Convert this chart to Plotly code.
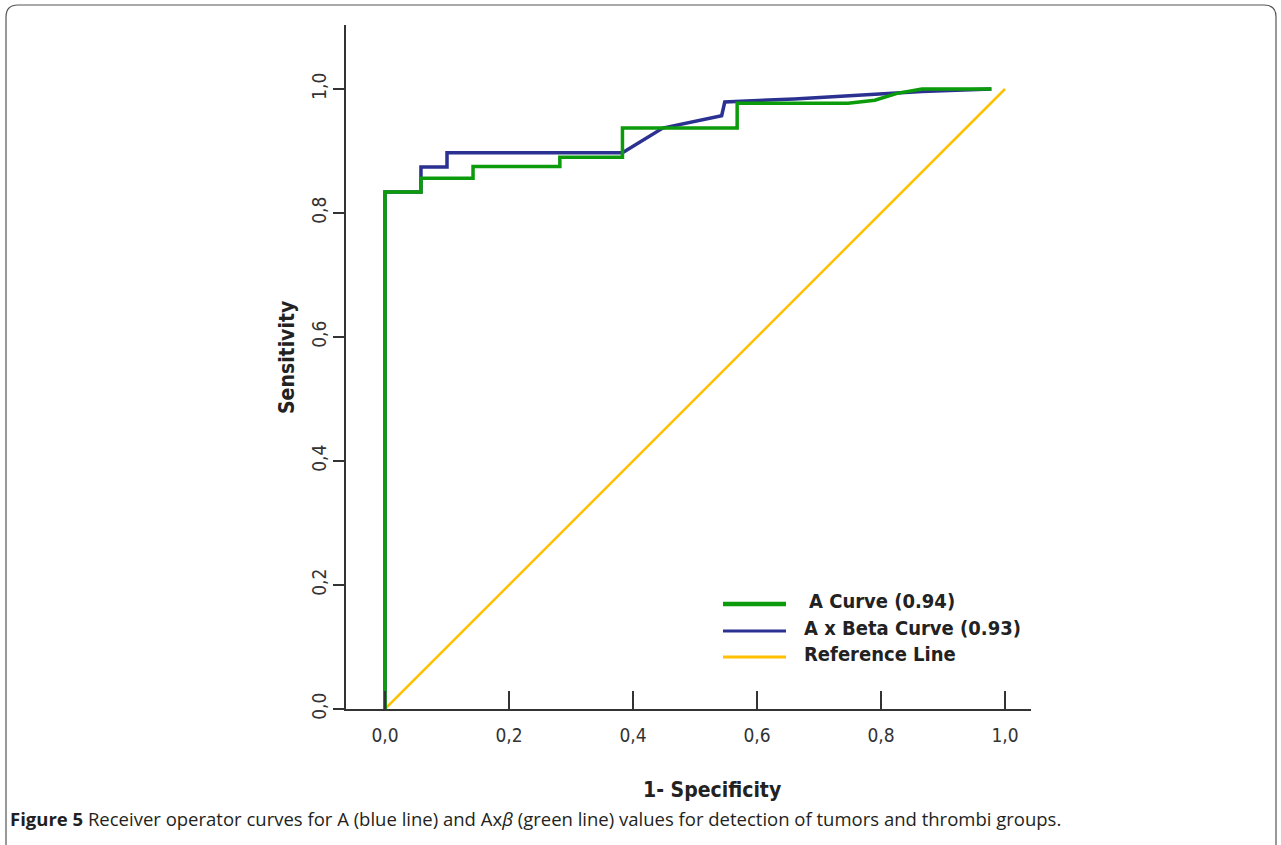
import plotly.graph_objects as go

# ---- data ----
a_fpr = [0.0, 0.0, 0.058, 0.058, 0.142, 0.142, 0.282, 0.282, 0.383, 0.383,
         0.568, 0.568, 0.747, 0.79, 0.826, 0.866, 0.978]
a_tpr = [0.0, 0.834, 0.834, 0.856, 0.856, 0.875, 0.875, 0.890, 0.890, 0.937,
         0.937, 0.977, 0.977, 0.982, 0.993, 1.0, 1.0]

ab_fpr = [0.0, 0.0, 0.058, 0.058, 0.100, 0.100, 0.383, 0.448, 0.543, 0.548,
          0.66, 0.726, 0.785, 0.866, 0.978]
ab_tpr = [0.0, 0.834, 0.834, 0.874, 0.874, 0.897, 0.897, 0.937, 0.957, 0.979,
          0.984, 0.988, 0.991, 0.996, 1.0]

ref_x = [0.0, 1.0]
ref_y = [0.0, 1.0]

tick_vals = [0.0, 0.2, 0.4, 0.6, 0.8, 1.0]

legend_labels = ["A Curve (0.94)", "A x Beta Curve (0.93)", "Reference Line"]

GREEN = "#0B9B0B"
BLUE = "#2B3190"
YELLOW = "#FFC000"
AXC = "#333333"
NARROW = "Liberation Sans Narrow, DejaVu Sans Condensed, Arial Narrow, sans-serif"

fig = go.Figure()
fig.add_trace(go.Scatter(x=ref_x, y=ref_y, mode="lines", name=legend_labels[2],
                         line=dict(color=YELLOW, width=2.5)))
fig.add_trace(go.Scatter(x=ab_fpr, y=ab_tpr, mode="lines", name=legend_labels[1],
                         line=dict(color=BLUE, width=3.5)))
fig.add_trace(go.Scatter(x=a_fpr, y=a_tpr, mode="lines", name=legend_labels[0],
                         line=dict(color=GREEN, width=3.5)))

# plot area in screen pixels: x 346..1031, y 25..709 (body margin removed below)
W, H = 1281, 845
L, R, T, B = 346, 1031, 25, 709
pw, ph = R - L, B - T

def px(x):
    return (x - L) / pw

def py(y):
    return (B - y) / ph

shapes = []
annotations = []

# custom legend
leg = [(legend_labels[0], GREEN, 4.5, 604, 807),
       (legend_labels[1], BLUE, 3, 631, 802),
       (legend_labels[2], YELLOW, 3, 657, 802)]
for text, col, w, yy, tx in leg:
    shapes.append(dict(type="line", xref="paper", yref="paper",
                       x0=px(723), x1=px(786), y0=py(yy), y1=py(yy),
                       line=dict(color=col, width=w)))
    annotations.append(dict(xref="paper", yref="paper", x=px(tx), y=py(yy - 3),
                            text="<b>%s</b>" % text, showarrow=False,
                            xanchor="left", yanchor="middle",
                            font=dict(family=NARROW, size=20, color="#222222")))

# axis titles
annotations.append(dict(xref="paper", yref="paper", x=px(287), y=py(358),
                        text="<b>Sensitivity</b>", textangle=-90, showarrow=False,
                        xanchor="center", yanchor="middle",
                        font=dict(family=NARROW, size=21, color="#222222")))
annotations.append(dict(xref="paper", yref="paper", x=px(712), y=py(790),
                        text="<b>1- Specificity</b>", showarrow=False,
                        xanchor="center", yanchor="middle",
                        font=dict(family=NARROW, size=21, color="#222222")))

# caption
annotations.append(dict(xref="paper", yref="paper", x=px(8), y=py(818),
                        text="<b>Figure 5</b> Receiver operator curves for A (blue line) and Ax<i>β</i> (green line) values for detection of tumors and thrombi groups.",
                        showarrow=False, xanchor="left", yanchor="middle",
                        font=dict(family="Open Sans, sans-serif", size=18.5, color="#231F20")))

# rounded frame around the figure
fl, fr, ft, fb = px(6), px(1276), py(5), py(870)
rx, ry = 12 / pw, 12 / ph
path = (f"M {fl},{fb} L {fl},{ft - ry} Q {fl},{ft} {fl + rx},{ft} "
        f"L {fr - rx},{ft} Q {fr},{ft} {fr},{ft - ry} L {fr},{fb}")
shapes.append(dict(type="path", xref="paper", yref="paper", path=path,
                   line=dict(color="#555555", width=1.2)))

x0v = (L - 385) / 620
x1v = (R - 385) / 620
y1v = (B - T) / 620

fig.update_layout(
    width=W, height=H,
    margin=dict(l=L, r=W - R, t=T, b=H - B, pad=0),
    paper_bgcolor="white", plot_bgcolor="white",
    showlegend=False,
    separators=",.",
    shapes=shapes, annotations=annotations,
    xaxis=dict(range=[x0v, x1v], tickvals=tick_vals, tickformat=".1f",
               showgrid=False, zeroline=False, showline=True, linecolor=AXC,
               linewidth=1.5, ticks="inside", ticklen=18, tickwidth=1.5,
               tickcolor=AXC, ticklabelstandoff=8,
               tickfont=dict(family=NARROW, size=19, color="#333333")),
    yaxis=dict(range=[0, y1v], tickvals=tick_vals, tickformat=".1f",
               showgrid=False, zeroline=False, showline=True, linecolor=AXC,
               linewidth=1.5, ticks="outside", ticklen=11, tickwidth=1.5,
               tickcolor=AXC, tickangle=-90,
               tickfont=dict(family=NARROW, size=19, color="#333333")),
)

fig.write_html("out.html",
               config={"displayModeBar": False},
               post_script="document.body.style.margin='0';document.body.style.overflow='hidden';")
